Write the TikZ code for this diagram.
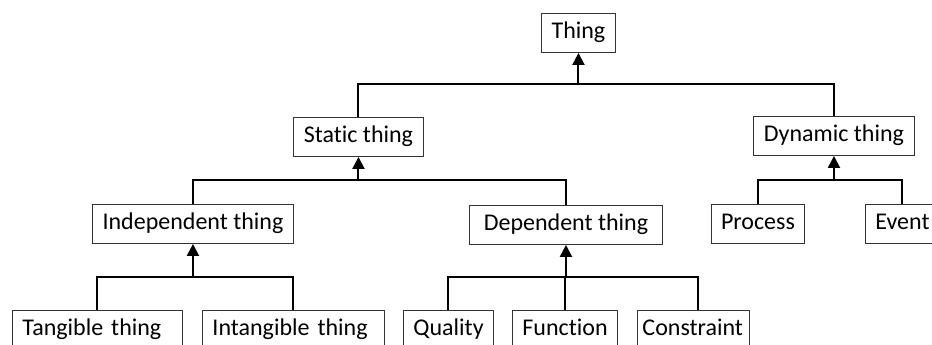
\documentclass[tikz,border=0pt]{standalone}
\usepackage{fontspec}
\setmainfont{Carlito}[Ligatures=NoCommon]
\usepackage{tikz}
\usetikzlibrary{arrows.meta}
\tikzset{
  concept/.style={draw=black!80, line width=0.7pt, rectangle, anchor=north west,
    inner xsep=0pt, inner ysep=0pt, minimum height=29.25pt,
    text height=13pt, text depth=4pt,
    font=\fontsize{18}{21}\selectfont},
  leaf/.style={concept, inner xsep=7.5pt, align=left},
  link/.style={draw=black, line width=1.5pt},
  isa/.style={link, -{Triangle[length=9pt,width=9pt]}},
}

\begin{document}
\begin{tikzpicture}[x=0.75pt, y=-0.75pt]
  \useasboundingbox (0,0) rectangle (932,344);
  \clip (0,0) rectangle (932,344);
  % upper levels
  \node[concept, minimum width=55.5pt]   (thing)   at (541,13)  {Thing};
  \node[concept, minimum width=97.5pt]   (static)  at (293,117) {Static thing};
  \node[concept, minimum width=120.75pt] (dynamic) at (753,116) {Dynamic thing};
  \node[concept, minimum width=150.75pt] (indep)   at (92,204)  {Independent thing};
  \node[concept, minimum width=144.75pt] (dep)     at (469,205) {Dependent thing};
  \node[concept, minimum width=69.75pt]  (process) at (711,204) {Process};
  \node[concept, minimum width=55.5pt]   (event)   at (865,204) {Event};
  % leaves
  \node[leaf, text width=112.5pt] (tangible)   at (12,310)  {Tangible thing};
  \node[leaf, text width=121.5pt] (intangible) at (202,310) {Intangible thing};
  \node[leaf, text width=52.5pt]  (quality)    at (403,310) {Quality};
  \node[leaf, text width=63.75pt] (function)   at (512,310) {Function};
  \node[leaf, text width=76.5pt, inner xsep=3.75pt] (constraint) at (637,310) {Constraint};
  % junction bars
  \coordinate (topbar)   at (thing.south |- 0,84);
  \coordinate (staticbar) at (static.south |- 0,180);
  \coordinate (dynbar)   at (dynamic.south |- 0,180);
  \coordinate (indepbar) at (indep.south |- 0,277);
  \coordinate (depbar)   at (dep.south |- 0,277);
  \coordinate (constrtop) at ([xshift=3.4pt]constraint.north);
  % connectors
  \draw[link] (static.north) |- (topbar) -| (dynamic.north);
  \draw[isa] (topbar) -- (thing.south);
  \draw[link] (indep.north) |- (staticbar) -| (dep.north);
  \draw[isa] (staticbar) -- (static.south);
  \draw[link] (process.north) |- (dynbar) -| (event.north);
  \draw[isa] (dynbar) -- (dynamic.south);
  \draw[link] (tangible.north) |- (indepbar) -| (intangible.north);
  \draw[isa] (indepbar) -- (indep.south);
  \draw[link] (quality.north) |- (depbar) -| (constrtop);
  \draw[link] (function.north) -- (function.north |- depbar);
  \draw[isa] (depbar) -- (dep.south);
\end{tikzpicture}
\end{document}
